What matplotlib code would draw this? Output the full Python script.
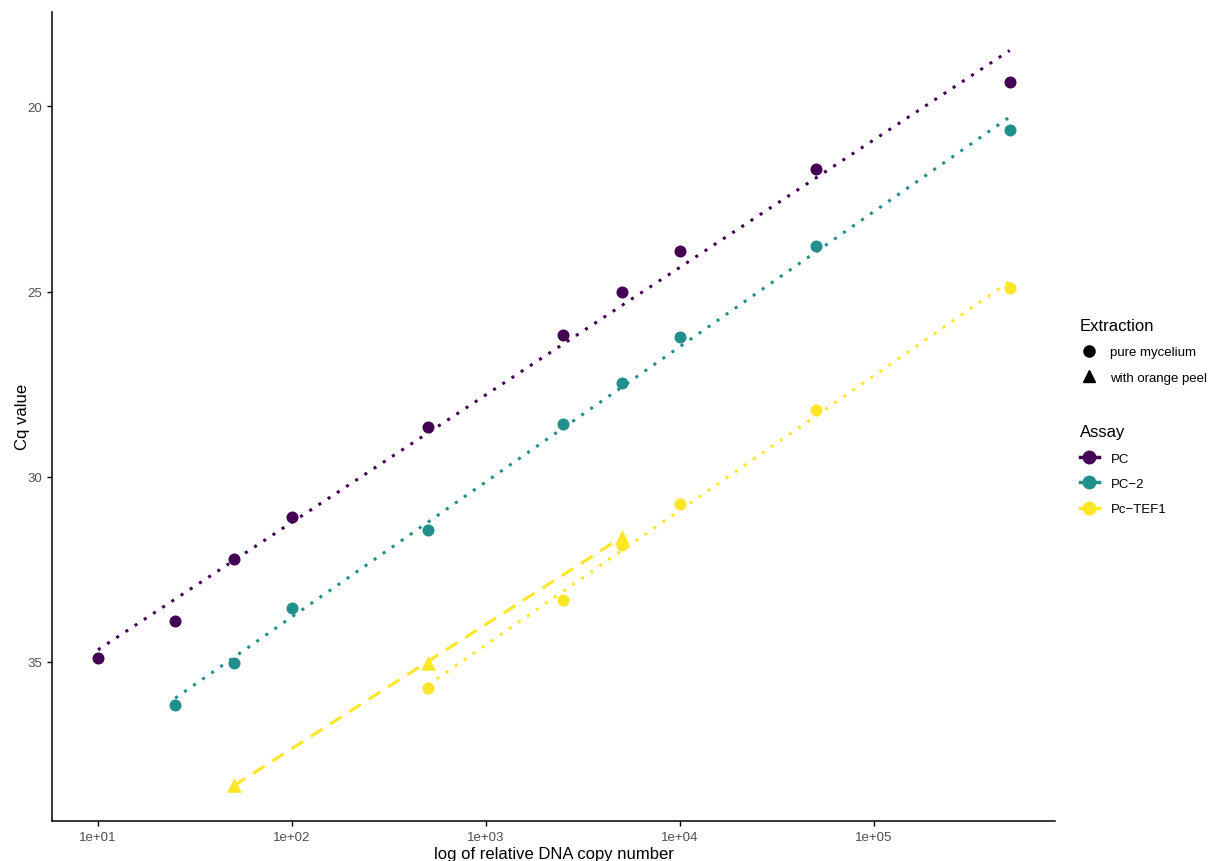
import numpy as np
import matplotlib
matplotlib.use("Agg")
import matplotlib.pyplot as plt
from matplotlib.lines import Line2D
from matplotlib.ticker import FixedLocator, NullLocator

# data
pc_x = [10, 25, 50, 100, 500, 2500, 5000, 10000, 50000, 500000]
pc_y = [34.89, 33.89, 32.22, 31.09, 28.67, 26.17, 25.0, 23.9, 21.7, 19.35]

pc2_x = [25, 50, 100, 500, 2500, 5000, 10000, 50000, 500000]
pc2_y = [36.18, 35.02, 33.54, 31.44, 28.59, 27.46, 26.22, 23.77, 20.65]

tef_x = [500, 2500, 5000, 10000, 50000, 500000]
tef_y = [35.70, 33.33, 31.85, 30.74, 28.21, 24.90]

tef_peel_x = [50, 500, 5000]
tef_peel_y = [38.34, 35.02, 31.63]

assays = ["PC", "PC\u22122", "Pc\u2212TEF1"]
colors = ["#440154", "#21908C", "#FDE725"]
x_ticks = [1e1, 1e2, 1e3, 1e4, 1e5]
x_labels = ["1e+01", "1e+02", "1e+03", "1e+04", "1e+05"]
y_ticks = [20, 25, 30, 35]

plt.rcParams['font.family'] = ['Liberation Sans', 'DejaVu Sans']

fig = plt.figure(figsize=(12.09, 8.62), dpi=100)
ax = fig.add_axes([0.043, 0.0464, 0.8297, 0.939])

dotted = (0, (1, 2.6))
dashed = (0, (4.5, 3))

def fit_line(xs, ys, col, ls):
    lx = np.log10(xs)
    k, b = np.polyfit(lx, ys, 1)
    xx = np.linspace(lx.min(), lx.max(), 100)
    ax.plot(10**xx, k*xx + b, color=col, lw=2.2, linestyle=ls, zorder=2)

groups = [(pc_x, pc_y, colors[0], "o", dotted, 75),
          (pc2_x, pc2_y, colors[1], "o", dotted, 75),
          (tef_x, tef_y, colors[2], "o", dotted, 75),
          (tef_peel_x, tef_peel_y, colors[2], "^", dashed, 110)]

for xs, ys, col, mk, ls, sz in groups:
    ax.scatter(xs, ys, s=sz, color=col, marker=mk, zorder=3, linewidths=0)
    fit_line(np.array(xs, dtype=float), np.array(ys), col, ls)

ax.set_xscale("log")
ax.set_xlim(10**0.763, 10**5.933)
ax.set_ylim(39.3, 17.44)
ax.xaxis.set_major_locator(FixedLocator(x_ticks))
ax.xaxis.set_minor_locator(NullLocator())
ax.set_xticklabels(x_labels)
ax.set_yticks(y_ticks)

for s in ["top", "right"]:
    ax.spines[s].set_visible(False)
for s in ["left", "bottom"]:
    ax.spines[s].set_linewidth(1.1)
ax.tick_params(axis="both", labelsize=9.5, colors="#4D4D4D", length=3.5, width=1.0)
ax.tick_params(axis="both", color="black")
ax.set_xlabel("log of relative DNA copy number", fontsize=12, labelpad=2)
ax.set_ylabel("Cq value", fontsize=12, labelpad=-2)

# legends
ext_handles = [Line2D([], [], marker="o", color="black", ls="none", markersize=8),
               Line2D([], [], marker="^", color="black", ls="none", markersize=9)]
leg1 = fig.legend(ext_handles, ["pure mycelium", "with orange peel"], title="Extraction",
                  loc="upper left", bbox_to_anchor=(0.889, 0.636), frameon=False,
                  fontsize=9.5, title_fontsize=12, handlelength=1.4, labelspacing=1.0,
                  handletextpad=0.9, borderaxespad=0)
leg1._legend_box.align = "left"

assay_handles = [Line2D([], [], marker="o", color=c, lw=2.5, markersize=9) for c in colors]
leg2 = fig.legend(assay_handles, assays, title="Assay",
                  loc="upper left", bbox_to_anchor=(0.889, 0.513), frameon=False,
                  fontsize=9.5, title_fontsize=12, handlelength=1.4, labelspacing=1.0,
                  handletextpad=0.9, borderaxespad=0)
leg2._legend_box.align = "left"

fig.savefig("out.png", dpi=100)
